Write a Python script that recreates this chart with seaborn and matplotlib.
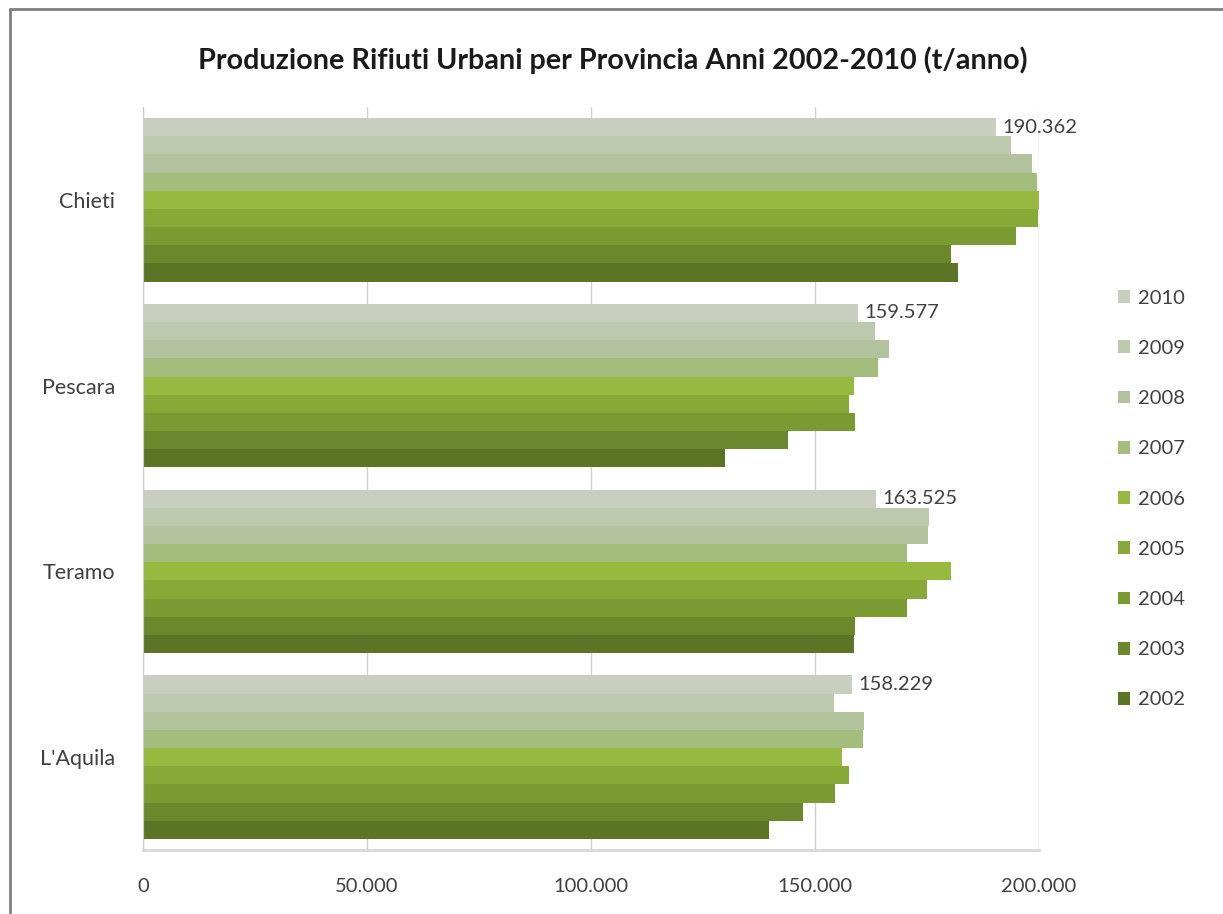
import numpy as np
import pandas as pd
import matplotlib
matplotlib.use("Agg")
import matplotlib.pyplot as plt
from matplotlib.lines import Line2D
from matplotlib.patches import Patch
from matplotlib.ticker import FuncFormatter
import seaborn as sns

provinces = ["Chieti", "Pescara", "Teramo", "L'Aquila"]
years = ["2010", "2009", "2008", "2007", "2006", "2005", "2004", "2003", "2002"]

# t/anno, ordered 2010 -> 2002
chieti = [190362, 193700, 198500, 199500, 200000, 199800, 194800, 180400, 181800]
pescara = [159577, 163400, 166400, 164000, 158600, 157600, 159000, 144000, 129900]
teramo = [163525, 175400, 175200, 170600, 180400, 175000, 170600, 159000, 158600]
laquila = [158229, 154200, 161000, 160600, 156100, 157500, 154500, 147200, 139700]

year_colors = ["#c8cfbe", "#bdc9ac", "#b1c29c", "#a3bd7c", "#95ba3f",
               "#87a938", "#7a9b31", "#6b892c", "#5b7426"]

rows = []
for prov, vals in zip(provinces, [chieti, pescara, teramo, laquila]):
    for yr, v in zip(years, vals):
        rows.append({"Provincia": prov, "Anno": yr, "Valore": v})
df = pd.DataFrame(rows)

sns.set_style("white")
plt.rcParams["font.family"] = ["Lato", "DejaVu Sans"]

fig = plt.figure(figsize=(12.23, 9.14), dpi=100)
ax = fig.add_axes([0.117, 0.07, 0.7326, 0.813])

sns.barplot(data=df, x="Valore", y="Provincia", hue="Anno", order=provinces,
            hue_order=years, palette=year_colors, width=0.88, orient="h",
            saturation=1, edgecolor="none", ax=ax, legend=False)

ax.set_xlim(0, 200000)
ax.set_xticks([0, 50000, 100000, 150000, 200000])
ax.xaxis.set_major_formatter(FuncFormatter(lambda v, p: f"{int(v):,}".replace(",", ".")))
ax.grid(axis="x", color="#d0d0d0", linewidth=1)
ax.set_axisbelow(True)
ax.set_xlabel("")
ax.set_ylabel("")
for s in ["top", "right"]:
    ax.spines[s].set_visible(False)
ax.spines["left"].set_color("#c8c8c8")
ax.spines["bottom"].set_color("#d8d8d8")
ax.spines["bottom"].set_linewidth(2)
ax.tick_params(axis="both", length=0, labelcolor="#404040")
ax.tick_params(axis="x", pad=20, labelsize=14.5)
ax.tick_params(axis="y", pad=20, labelsize=15.5)

# value labels on the 2010 bars
vals_2010 = [chieti[0], pescara[0], teramo[0], laquila[0]]
for bar, v in zip(ax.containers[0].patches, vals_2010):
    ax.text(bar.get_width() + 1500, bar.get_y() + bar.get_height() / 2,
            f"{v:,}".replace(",", "."), va="center", ha="left",
            fontsize=14.5, color="#404040")

handles = [Patch(facecolor=c, edgecolor="none") for c in year_colors]
fig.legend(handles, years, loc="center left", bbox_to_anchor=(0.899, 0.454),
           frameon=False, fontsize=14.5, handlelength=0.6, handleheight=0.6,
           handletextpad=0.4, labelspacing=1.65, labelcolor="#404040")

fig.suptitle("Produzione Rifiuti Urbani per Provincia Anni 2002-2010 (t/anno)",
             x=0.501, y=0.934, va="center", fontsize=20.7, fontweight="bold",
             color="#1a1a1a")

# outer chart frame
fig.add_artist(Line2D([10 / 1223, 10 / 1223], [0, 1 - 9 / 914], color="#808080",
                      linewidth=2, transform=fig.transFigure))
fig.add_artist(Line2D([10 / 1223, 1], [1 - 9 / 914, 1 - 9 / 914], color="#808080",
                      linewidth=2, transform=fig.transFigure))

fig.savefig("out.png", dpi=100)
